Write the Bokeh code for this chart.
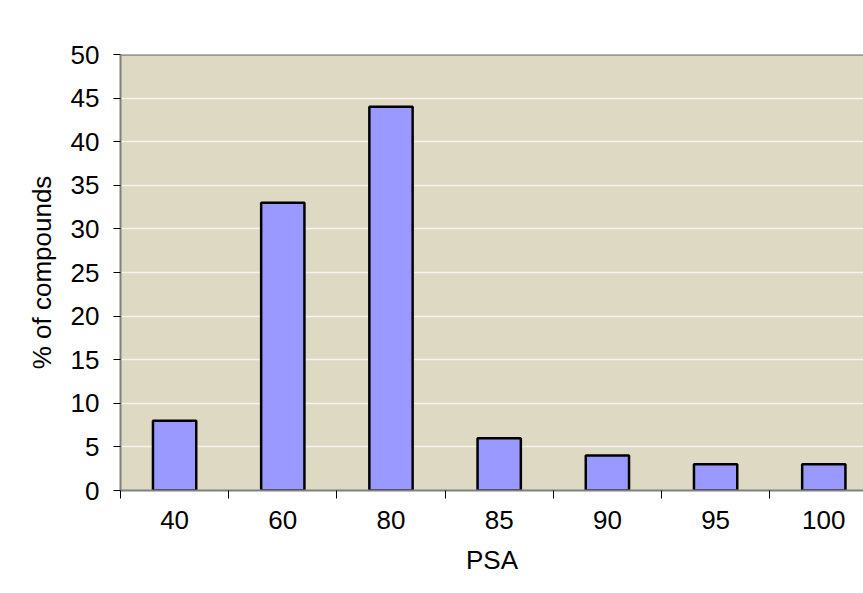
from bokeh.plotting import figure
from bokeh.models import Range1d, FixedTicker, Span
from bokeh.embed import file_html
from bokeh.resources import INLINE

# ---- data ----
categories = ["40", "60", "80", "85", "90", "95", "100"]
percent = [8, 33, 44, 6, 4, 3, 3]
y_ticks = [0, 5, 10, 15, 20, 25, 30, 35, 40, 45, 50]
x_label = "PSA"
y_label = "% of compounds"

positions = [i + 0.5 for i in range(len(categories))]
boundaries = list(range(len(categories) + 1))

FONT = "Liberation Sans"
W, H = 863, 593
LEFT, TOP = 120, 54
CAT_PX = 108.2
FRAME_W = W - LEFT

p = figure(
    width=W, height=H,
    output_backend="svg", toolbar_location=None,
    x_range=Range1d(0, FRAME_W / CAT_PX), y_range=Range1d(0, 50),
    min_border_left=LEFT, min_border_right=0,
    min_border_top=TOP, min_border_bottom=H - TOP - 436,
)
p.background_fill_color = "#DDD9C3"
p.border_fill_color = "white"
p.outline_line_color = None

p.vbar(x=positions, top=percent, bottom=0, width=0.40,
       fill_color="#9999FF", line_color="black", line_width=2.5)

# x axis: ticks at category boundaries, labels at centres
xa = p.xaxis[0]
xa.ticker = FixedTicker(ticks=positions, minor_ticks=boundaries)
xa.major_label_overrides = {pos: c for pos, c in zip(positions, categories)}
xa.major_tick_out = 0
xa.major_tick_in = 0
xa.minor_tick_out = 8
xa.minor_tick_in = 0
xa.minor_tick_line_color = "black"
xa.axis_line_color = "#808080"
xa.axis_line_width = 2
xa.major_label_standoff = 12
xa.axis_label = x_label
xa.axis_label_standoff = 13

# y axis
ya = p.yaxis[0]
ya.ticker = FixedTicker(ticks=y_ticks, minor_ticks=[])
ya.major_tick_out = 7
ya.major_tick_in = 0
ya.major_tick_line_color = "black"
ya.minor_tick_line_color = None
ya.axis_line_color = "#808080"
ya.axis_line_width = 2
ya.major_label_standoff = 14
ya.axis_label = y_label
ya.axis_label_standoff = 11

for ax in (xa, ya):
    ax.major_label_text_font = FONT
    ax.major_label_text_font_size = "26px"
    ax.major_label_text_color = "black"
    ax.axis_label_text_font = FONT
    ax.axis_label_text_font_size = "26px"
    ax.axis_label_text_font_style = "normal"
    ax.axis_label_text_color = "black"

p.xgrid.grid_line_color = None
p.ygrid.ticker = FixedTicker(ticks=y_ticks[1:-1])
p.ygrid.grid_line_color = "#F6F4EC"
p.ygrid.grid_line_width = 1.5

p.add_layout(Span(location=50, dimension="width", line_color="#808080", line_width=2.5))

open("out.html", "w").write(file_html(p, INLINE))
